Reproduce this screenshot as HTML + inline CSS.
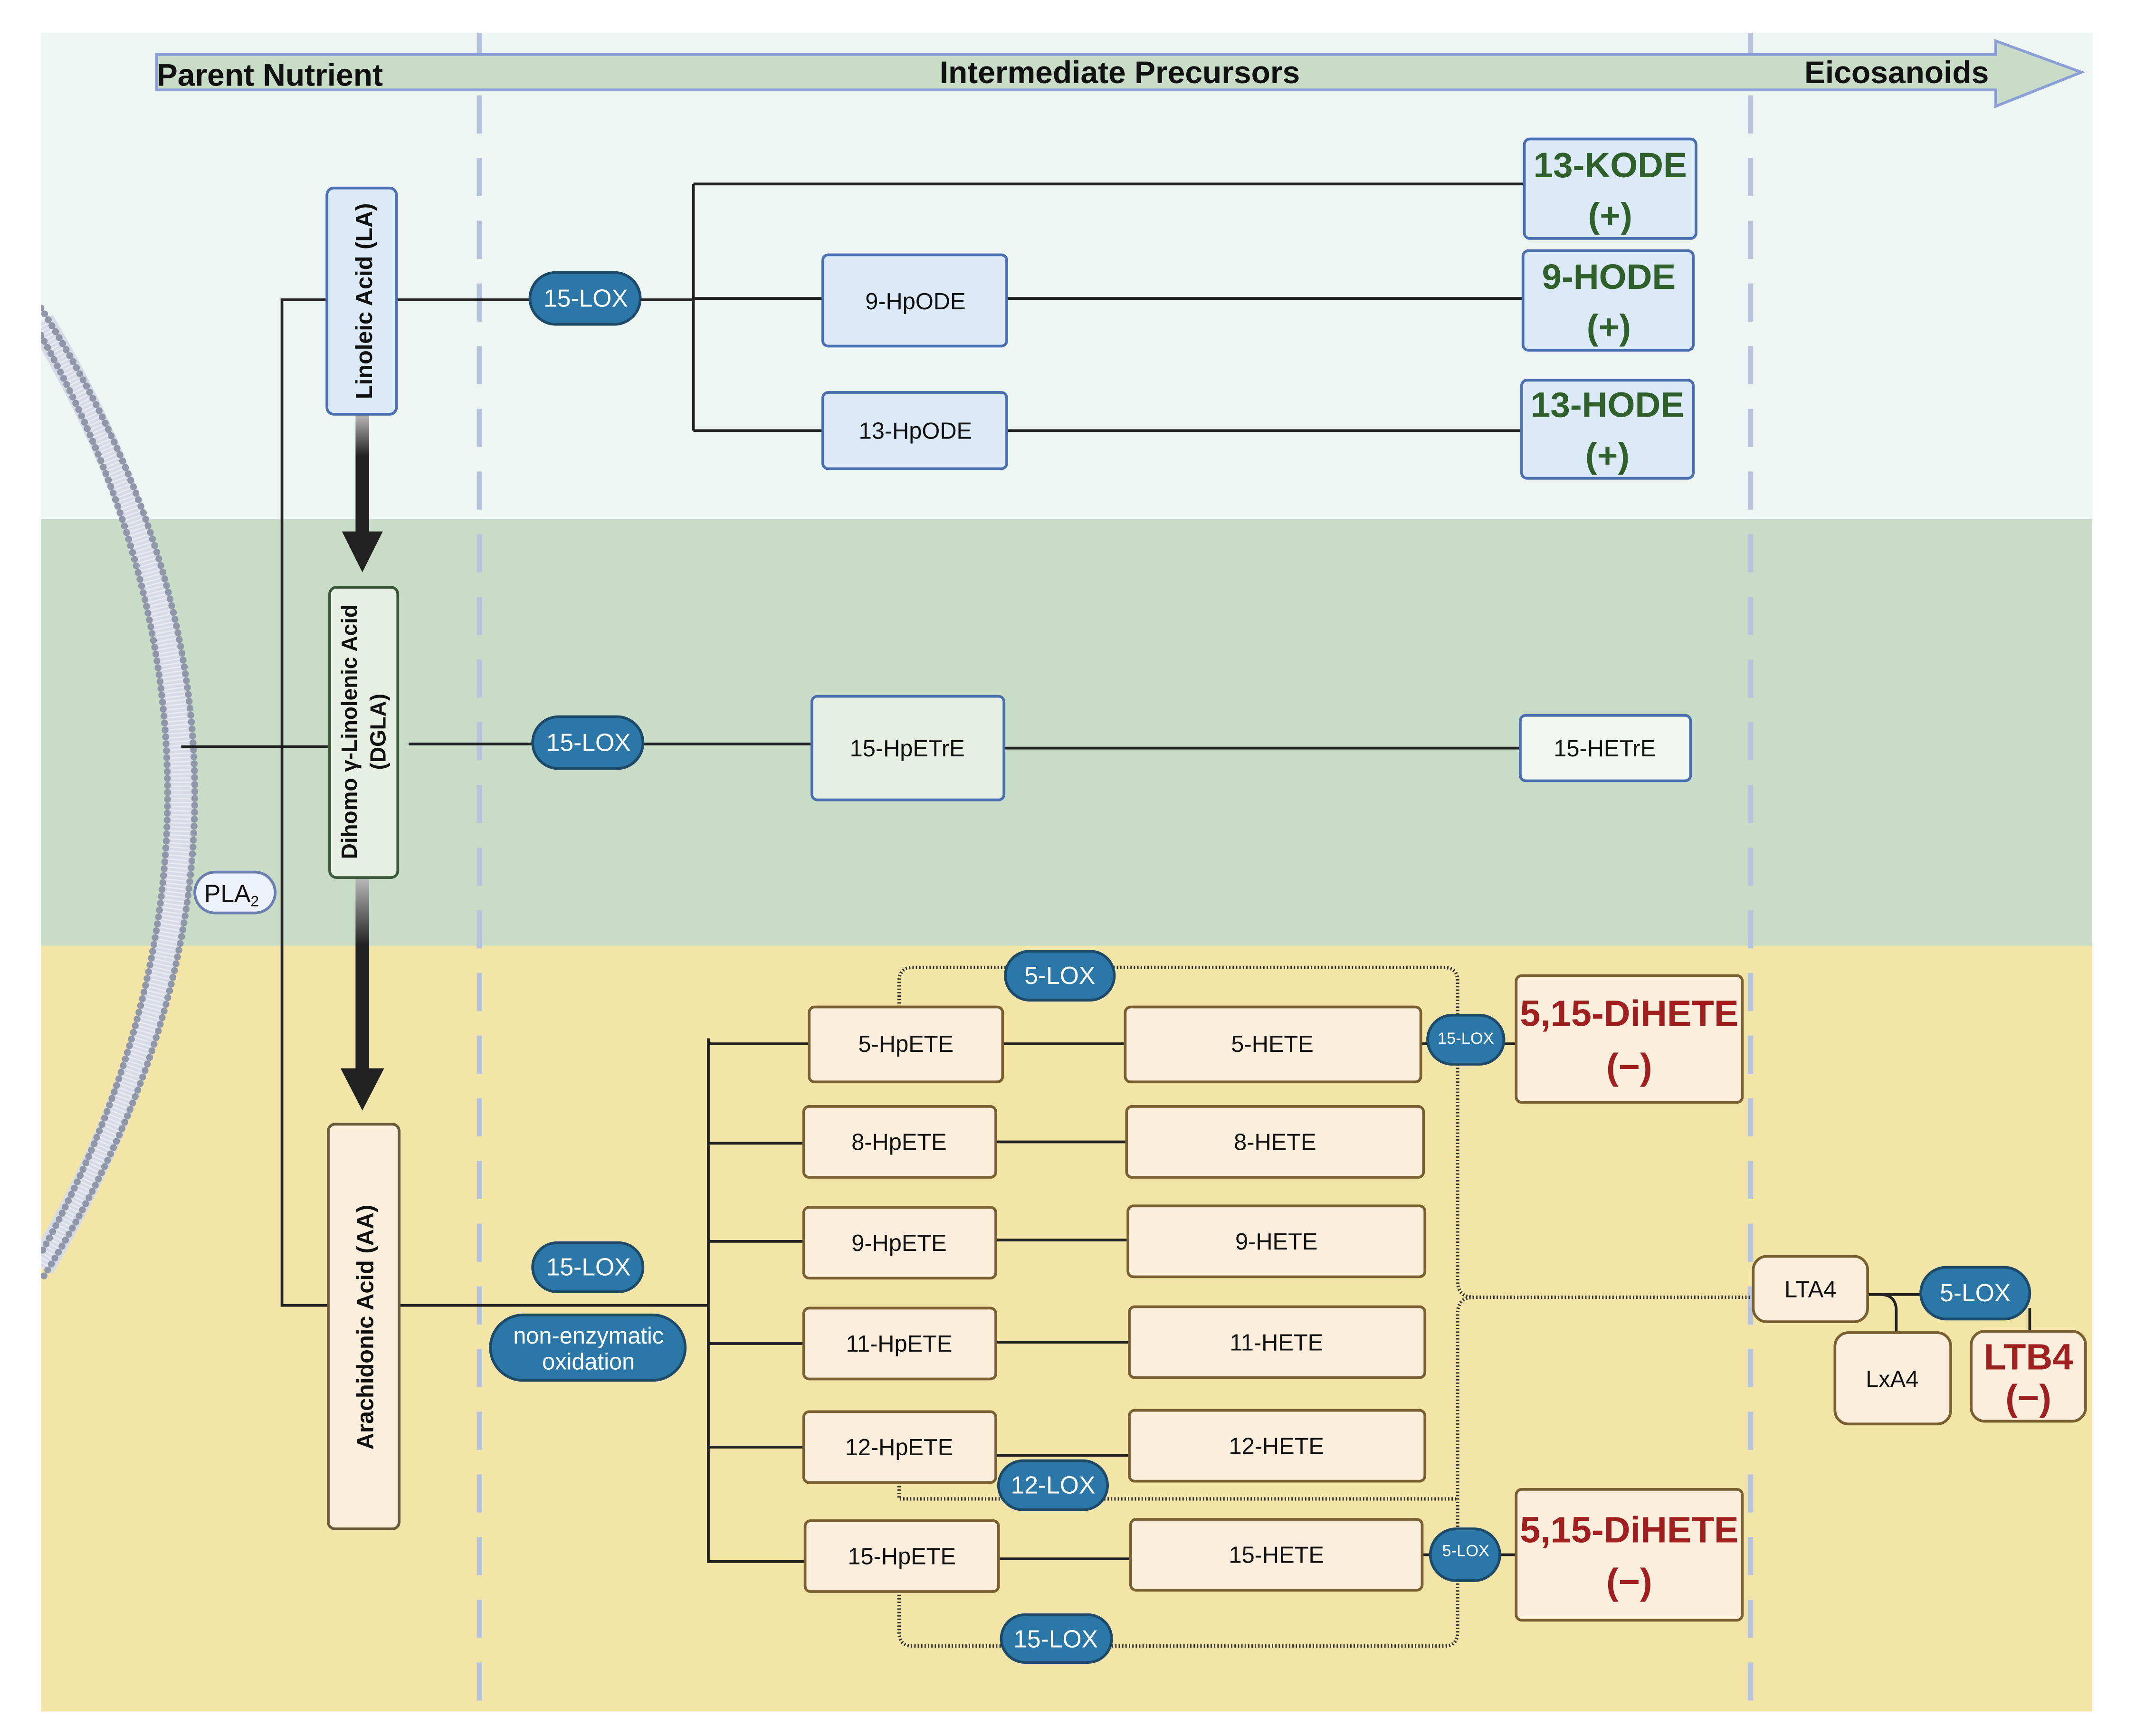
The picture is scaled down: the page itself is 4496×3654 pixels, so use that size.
<!DOCTYPE html>
<html><head><meta charset="utf-8"><style>html,body{margin:0;padding:0;background:#fff}svg{display:block}text{font-family:"Liberation Sans",sans-serif}</style></head>
<body>
<svg width="4496" height="3654" viewBox="0 0 1568 1274" preserveAspectRatio="none" xmlns="http://www.w3.org/2000/svg">
<defs>
<linearGradient id="ag" x1="0" y1="0" x2="0" y2="1"><stop offset="0" stop-color="#bbb"/><stop offset="0.35" stop-color="#222"/><stop offset="1" stop-color="#222"/></linearGradient>
<clipPath id="pc"><rect x="30" y="24" width="1506" height="1232"/></clipPath>
</defs>
<rect width="1568" height="1274" fill="#fff"/>
<rect x="30" y="24" width="1506" height="357" fill="#eef6f3"/>
<rect x="30" y="381" width="1506" height="313" fill="#c8dcc8"/>
<rect x="30" y="694" width="1506" height="562" fill="#f3e4a8"/>
<!-- membrane -->
<g fill="none" clip-path="url(#pc)">
<path d="M30 236 Q236 582 30 930" stroke="#d6dbe6" stroke-width="20"/>
<path d="M30 236 Q236 582 30 930" stroke="#e8ecf2" stroke-width="14" stroke-dasharray="1 2"/>
<path d="M30 226 Q256 582 30 940" stroke="#8f97a8" stroke-width="5" stroke-dasharray="0.1 5" stroke-linecap="round"/>
<path d="M30 246 Q216 582 30 920" stroke="#8f97a8" stroke-width="5" stroke-dasharray="0.1 5" stroke-linecap="round"/>
</g>
<!-- dashed vertical -->
<g stroke="#b8c4dc" stroke-width="4" stroke-dasharray="28 18">
<line x1="352" y1="24" x2="352" y2="1256"/><line x1="1285" y1="24" x2="1285" y2="1256"/>
</g>
<!-- header arrow -->
<path d="M115 40 H1465 V30 L1528 53 L1465 78 V66 H115 Z" fill="#c9dcc8" stroke="#8a9fd8" stroke-width="2"/>
<text x="115" y="63" font-size="23" font-weight="bold" fill="#111">Parent Nutrient</text>
<text x="822" y="61" font-size="23" font-weight="bold" fill="#111" text-anchor="middle">Intermediate Precursors</text>
<text x="1460" y="61" font-size="23" font-weight="bold" fill="#111" text-anchor="end">Eicosanoids</text>
<!-- connectors -->
<g stroke="#222" stroke-width="2" fill="none">
<path d="M240 220 H207 V958 H241"/>
<path d="M133 548 H242"/>
<path d="M291 220 H509"/>
<path d="M509 135 V316"/>
<path d="M509 135 H1119"/>
<path d="M509 219 H604 M739 219 H1118"/>
<path d="M509 316 H604 M739 316 H1117"/>
<path d="M300 546 H596 M737 549 H1116"/>
<path d="M293 958 H520 M520 762 V1147"/>
<path d="M520 766 H594 M520 839 H590 M520 911 H590 M520 986 H590 M520 1062 H590 M520 1146 H591"/>
<path d="M736 766 H826 M731 838 H827 M731 910 H828 M731 985 H829 M731 1068 H829 M733 1144 H830"/>
<path d="M1043 766 H1113 M1044 1141 H1113"/>
<path d="M1371 950 H1410 M1380 950 Q1392 950 1392 962 V978 M1490 960 V977"/>
</g>
<g stroke="#333" stroke-width="2.5" fill="none" stroke-dasharray="1 1.5">
<path d="M660 739 V720 Q660 710 670 710 H1060 Q1070 710 1070 720 V940 Q1070 952 1082 952 H1287"/>
<path d="M1082 952 Q1070 952 1070 964 V1198 Q1070 1208 1060 1208 H670 Q660 1208 660 1198 V1168"/>
<path d="M660 1088 V1100 H1070"/>
</g>
<!-- arrows -->
<rect x="261" y="304" width="10" height="88" fill="url(#ag)"/>
<path d="M251 390 H281 L266 420 Z" fill="#222"/>
<rect x="261" y="644" width="10" height="142" fill="url(#ag)"/>
<path d="M250 784 H282 L266 815 Z" fill="#222"/>
<!-- LA -->
<rect x="240" y="138" width="51" height="166" rx="5" fill="#dce9f7" stroke="#4a6fb0" stroke-width="2"/>
<text transform="translate(273 221) rotate(-90)" font-size="17" font-weight="bold" text-anchor="middle" fill="#111">Linoleic Acid (LA)</text>
<g stroke="#4a6fb0" stroke-width="2" fill="#dce9f7">
<rect x="604" y="187" width="135" height="67" rx="4"/>
<rect x="604" y="288" width="135" height="56" rx="4"/>
<rect x="1119" y="102" width="126" height="73" rx="4"/>
<rect x="1118" y="184" width="125" height="73" rx="4"/>
<rect x="1117" y="279" width="126" height="72" rx="4"/>
</g>
<g font-size="17" text-anchor="middle" fill="#111">
<text x="672" y="227">9-HpODE</text><text x="672" y="322">13-HpODE</text>
</g>
<g font-size="26" font-weight="bold" text-anchor="middle" fill="#2f5f2a">
<text x="1182" y="130">13-KODE</text><text x="1182" y="167">(+)</text>
<text x="1181" y="212">9-HODE</text><text x="1181" y="249">(+)</text>
<text x="1180" y="306">13-HODE</text><text x="1180" y="343">(+)</text>
</g>
<!-- DGLA -->
<rect x="242" y="431" width="50" height="213" rx="5" fill="#e6efe2" stroke="#3a5a3a" stroke-width="2"/>
<text transform="translate(262 537) rotate(-90)" font-size="16" font-weight="bold" text-anchor="middle" fill="#111">Dihomo γ-Linolenic Acid</text>
<text transform="translate(283 537) rotate(-90)" font-size="16" font-weight="bold" text-anchor="middle" fill="#111">(DGLA)</text>
<rect x="596" y="511" width="141" height="76" rx="4" fill="#e6efe2" stroke="#4a6fb0" stroke-width="2"/>
<text x="666" y="555" font-size="17" text-anchor="middle" fill="#111">15-HpETrE</text>
<rect x="1116" y="525" width="125" height="48" rx="4" fill="#f2f7f2" stroke="#4a6fb0" stroke-width="2"/>
<text x="1178" y="555" font-size="17" text-anchor="middle" fill="#111">15-HETrE</text>
<!-- PLA2 -->
<rect x="143" y="640" width="59" height="30" rx="15" fill="#eef2fa" stroke="#6a7fb0" stroke-width="2"/>
<text x="170" y="662" font-size="18" text-anchor="middle" fill="#111">PLA<tspan font-size="11" dy="3">2</tspan></text>
<!-- AA -->
<rect x="241" y="825" width="52" height="297" rx="5" fill="#fbeedd" stroke="#6a5a3a" stroke-width="2"/>
<text transform="translate(274 974) rotate(-90)" font-size="17" font-weight="bold" text-anchor="middle" fill="#111">Arachidonic Acid (AA)</text>
<g fill="#fbeedd" stroke="#7a6030" stroke-width="2">
<rect x="594" y="739" width="142" height="55" rx="4"/>
<rect x="590" y="812" width="141" height="52" rx="4"/>
<rect x="590" y="886" width="141" height="52" rx="4"/>
<rect x="590" y="960" width="141" height="52" rx="4"/>
<rect x="590" y="1036" width="141" height="52" rx="4"/>
<rect x="591" y="1116" width="142" height="52" rx="4"/>
<rect x="826" y="739" width="217" height="55" rx="4"/>
<rect x="827" y="812" width="218" height="52" rx="4"/>
<rect x="828" y="885" width="218" height="52" rx="4"/>
<rect x="829" y="959" width="217" height="52" rx="4"/>
<rect x="829" y="1035" width="217" height="52" rx="4"/>
<rect x="830" y="1115" width="214" height="52" rx="4"/>
<rect x="1113" y="716" width="166" height="93" rx="4"/>
<rect x="1113" y="1093" width="166" height="96" rx="4"/>
<rect x="1287" y="922" width="84" height="48" rx="10"/>
<rect x="1347" y="978" width="85" height="67" rx="10"/>
<rect x="1447" y="977" width="84" height="66" rx="10"/>
</g>
<g font-size="17" text-anchor="middle" fill="#111">
<text x="665" y="772">5-HpETE</text><text x="660" y="844">8-HpETE</text><text x="660" y="918">9-HpETE</text>
<text x="660" y="992">11-HpETE</text><text x="660" y="1068">12-HpETE</text><text x="662" y="1148">15-HpETE</text>
<text x="934" y="772">5-HETE</text><text x="936" y="844">8-HETE</text><text x="937" y="917">9-HETE</text>
<text x="937" y="991">11-HETE</text><text x="937" y="1067">12-HETE</text><text x="937" y="1147">15-HETE</text>
<text x="1329" y="952">LTA4</text><text x="1389" y="1018">LxA4</text>
</g>
<g font-size="27" font-weight="bold" text-anchor="middle" fill="#a02020">
<text x="1196" y="753">5,15-DiHETE</text><text x="1196" y="792">(−)</text>
<text x="1196" y="1132">5,15-DiHETE</text><text x="1196" y="1170">(−)</text>
<text x="1489" y="1005">LTB4</text><text x="1489" y="1035">(−)</text>
</g>
<!-- enzyme pills -->
<g fill="#2b77a8" stroke="#1e4a6a" stroke-width="2">
<rect x="389" y="200" width="81" height="38" rx="19"/>
<rect x="391" y="526" width="81" height="38" rx="19"/>
<rect x="391" y="912" width="81" height="36" rx="18"/>
<rect x="360" y="965" width="143" height="48" rx="24"/>
<rect x="738" y="698" width="80" height="36" rx="18"/>
<rect x="733" y="1072" width="80" height="36" rx="18"/>
<rect x="735" y="1185" width="81" height="35" rx="17.5"/>
<rect x="1048" y="745" width="56" height="36" rx="18"/>
<rect x="1050" y="1122" width="51" height="38" rx="19"/>
<rect x="1410" y="930" width="80" height="38" rx="19"/>
</g>
<g font-size="18" text-anchor="middle" fill="#fff">
<text x="430" y="225">15-LOX</text><text x="432" y="551">15-LOX</text><text x="432" y="936">15-LOX</text>
<text x="432" y="986" font-size="17">non-enzymatic</text><text x="432" y="1005" font-size="17">oxidation</text>
<text x="778" y="722">5-LOX</text><text x="773" y="1096">12-LOX</text><text x="775" y="1209">15-LOX</text>
<text x="1076" y="766" font-size="12">15-LOX</text><text x="1076" y="1142" font-size="12">5-LOX</text>
<text x="1450" y="955">5-LOX</text>
</g>
</svg>
</body></html>
